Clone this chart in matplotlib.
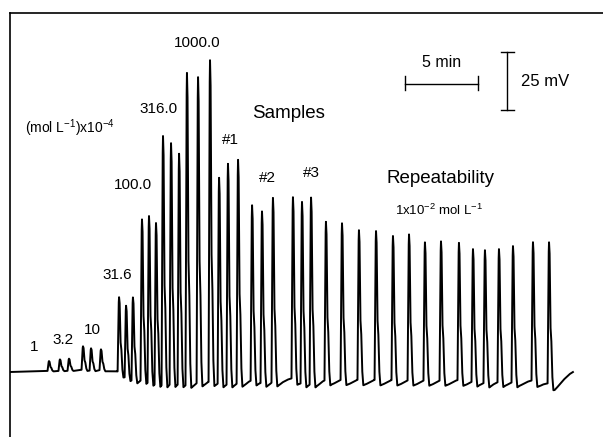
import numpy as np
import matplotlib
matplotlib.use("Agg")
import matplotlib.pyplot as plt

plt.rcParams['font.family'] = ['Liberation Sans', 'DejaVu Sans']
plt.rcParams['mathtext.default'] = 'regular'

# peak apex times (min) and apex levels (mV, relative to the starting baseline)
peak_t = [2.67, 3.42, 4.04, 5.00, 5.55, 6.23, 7.47, 7.95, 8.42,
          9.04, 9.52, 10.00, 10.48, 11.03, 11.58, 12.12, 12.88, 13.70,
          14.32, 14.93, 15.62, 16.58, 17.26, 18.01, 19.38, 20.00, 20.62,
          21.64, 22.74, 23.90, 25.07, 26.23, 27.33, 28.42, 29.52, 30.75,
          31.71, 32.53, 33.49, 34.45, 35.82, 36.92]
peak_top = [4.7, 5.6, 6.0, 11.2, 10.8, 10.3, 32.3, 30.6, 34.9,
            68.1, 70.3, 67.7, 105.2, 101.7, 97.0, 131.9, 128.9, 135.8,
            85.8, 92.2, 93.5, 72.8, 71.1, 76.7, 75.4, 75.4, 77.6,
            65.5, 64.7, 61.6, 61.2, 59.1, 59.9, 56.5, 56.9, 56.0,
            53.9, 53.9, 53.9, 55.2, 56.0, 56.5]

# baseline drift (min, mV)
base_t = [0, 2.7, 6.2, 7.2, 9.0, 12.5, 16.0, 20.0, 26.0, 32.0, 36.5, 37.3, 38.56]
base_v = [0, 0.5, 1.5, 0.5, -1.0, -2.5, -2.5, -2.5, -2.8, -3.0, -3.5, -5.0, 0.0]

# peak profile template (time from apex, fraction of height) and undershoot (mV)
shape_dt = [-0.10, -0.03, 0, 0.04, 0.10, 0.16, 0.22, 0.30]
shape_f = [0, 0.9, 1.0, 0.92, 0.4, 0.3, 0.08, 0]
dip_dt = [0.15, 0.3, 0.5, 1.0, 1.4]
dip_v = [0, -3.0, -2.5, -0.8, 0]

t = np.arange(0, 38.56, 0.005)
sig = np.interp(t, base_t, base_v)
for tp, top in zip(peak_t, peak_top):
    amp = top - np.interp(tp, base_t, base_v)
    sig += amp * np.interp(t - tp, shape_dt, shape_f, left=0, right=0)
    sig += min(amp / 40, 1) * np.interp(t - tp, dip_dt, dip_v, left=0, right=0)

fig = plt.figure(figsize=(6.03, 4.37), dpi=100)
ax = fig.add_axes([10 / 603, -13 / 437, 610 / 603, 1.0])
ax.plot(t, sig, color='black', lw=1.4)
ax.set_xlim(0, 610 / 14.6)
ax.set_ylim(-33.62, 154.74)
ax.set_xticks([])
ax.set_yticks([])
for s in ['right', 'bottom']:
    ax.spines[s].set_visible(False)
for s in ['left', 'top']:
    ax.spines[s].set_linewidth(1.2)

labels = [("1", 1.64, 10.8, 11), ("3.2", 3.63, 13.8, 11), ("10", 5.62, 18.1, 11),
          ("31.6", 7.33, 41.8, 11), ("100.0", 8.42, 80.6, 11), ("316.0", 10.14, 113.4, 11),
          ("1000.0", 12.81, 141.8, 11), ("#1", 15.07, 100.0, 11), ("#2", 17.60, 83.6, 11),
          ("#3", 20.62, 85.8, 11), ("Samples", 19.11, 111.6, 13.5),
          ("Repeatability", 29.52, 83.6, 13.5),
          ("1x10$^{-2}$ mol L$^{-1}$", 29.38, 69.8, 9.5),
          ("(mol L$^{-1}$)x10$^{-4}$", 4.11, 105.2, 10),
          ("5 min", 29.59, 133.2, 11.5), ("25 mV", 36.64, 125.0, 12)]
for txt, x, y, fs in labels:
    ax.text(x, y, txt, ha='center', va='center', fontsize=fs)

# scale bars: 5 min and 25 mV
ax.plot([27.05, 32.05], [124.1, 124.1], color='black', lw=1)
for xb in [27.05, 32.05]:
    ax.plot([xb, xb], [121.5, 127.5], color='black', lw=1)
ax.plot([34.04, 34.04], [112.9, 137.9], color='black', lw=1)
for yb in [112.9, 137.9]:
    ax.plot([33.6, 34.5], [yb, yb], color='black', lw=1)

fig.savefig('out.png', dpi=100)
